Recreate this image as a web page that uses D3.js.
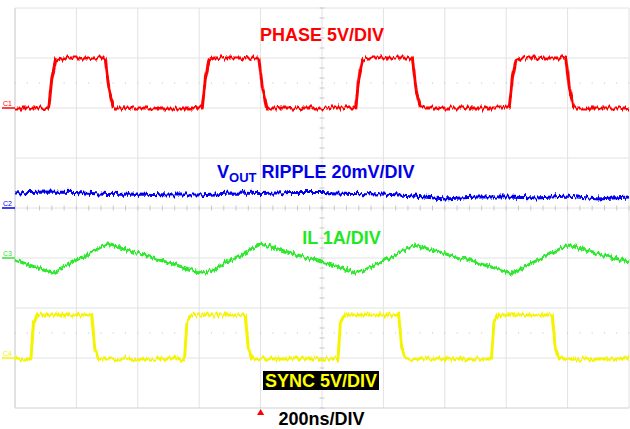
<!DOCTYPE html>
<html>
<head>
<meta charset="utf-8">
<script src="https://cdn.jsdelivr.net/npm/d3@7"></script>
<style>
  html, body { margin: 0; padding: 0; background: #fff; }
  svg { display: block; }
</style>
</head>
<body>
<svg id="scope" width="630" height="429"></svg>
<script>
// Screen is 10 horizontal divisions (200 ns each) by 8 vertical divisions.
// Times are in divisions from the left edge, levels in divisions from the centre line.

// CH1 switch node (5 V/div)
const phaseT = [0, 0.55, 0.60, 0.66, 0.74, 1.47, 1.53, 1.60, 3.05, 3.10, 3.16, 3.24, 3.97, 4.03, 4.10,
                5.55, 5.60, 5.66, 5.74, 6.47, 6.53, 6.60, 8.05, 8.10, 8.16, 8.24, 8.97, 9.03, 9.10, 10];
const phaseV = [2.0, 2.0, 2.6, 2.95, 3.0, 3.0, 2.4, 2.0, 2.0, 2.6, 2.95, 3.0, 3.0, 2.4, 2.0,
                2.0, 2.6, 2.95, 3.0, 3.0, 2.4, 2.0, 2.0, 2.6, 2.95, 3.0, 3.0, 2.4, 2.0, 2.0];

// CH2 output ripple (20 mV/div)
const voutT = [0, 0.5, 1, 1.5, 2, 2.5, 3, 3.5, 4, 4.5, 5, 5.5, 6, 6.5, 7, 7.5, 8, 8.5, 9, 9.5, 10];
const voutV = [0.30, 0.32, 0.31, 0.27, 0.28, 0.26, 0.26, 0.30, 0.29, 0.31, 0.31, 0.29, 0.28, 0.24,
               0.18, 0.22, 0.22, 0.20, 0.24, 0.18, 0.22];

// CH3 inductor current (1 A/div)
const ilT = [0, 0.60, 1.50, 3.10, 4.00, 5.60, 6.50, 8.10, 9.00, 10];
const ilV = [-1.04, -1.30, -0.72, -1.32, -0.72, -1.30, -0.74, -1.30, -0.74, -1.08];

// CH4 sync clock (5 V/div)
const syncT = [0, 0.26, 0.30, 0.36, 1.25, 1.30, 1.36, 2.76, 2.80, 2.86, 3.75, 3.80, 3.86,
               5.26, 5.30, 5.36, 6.25, 6.30, 6.36, 7.76, 7.80, 7.86, 8.75, 8.80, 8.86, 10];
const syncV = [-3.02, -3.02, -2.3, -2.14, -2.14, -2.8, -3.02, -3.02, -2.3, -2.14, -2.14, -2.8, -3.02,
               -3.02, -2.3, -2.14, -2.14, -2.8, -3.02, -3.02, -2.3, -2.14, -2.14, -2.8, -3.02, -3.02];

// Channel ground markers (divisions)
const markerNames = ["C1", "C2", "C3", "C4"];
const markerLevels = [2.0, 0.0, -1.0, -3.0];
const traceColors = ["#ff0000", "#0000ee", "#2ee82e", "#f4f400"];

const triggerTime = 4.0;

const svg = d3.select("#scope");
const x = d3.scaleLinear().domain([0, 10]).range([15, 629]);
const y = d3.scaleLinear().domain([-4, 4]).range([408, 8]);

// Noise filter: vertical displacement only, then a slight phosphor softening
const defs = svg.append("defs");
const f = defs.append("filter").attr("id", "noise")
  .attr("filterUnits", "userSpaceOnUse")
  .attr("x", 0).attr("y", 0).attr("width", 630).attr("height", 429);
f.append("feTurbulence").attr("type", "fractalNoise")
  .attr("baseFrequency", "0.45 0.06").attr("numOctaves", 2).attr("seed", 4).attr("result", "n");
f.append("feColorMatrix").attr("in", "n").attr("type", "matrix")
  .attr("values", "0 0 0 0 0.5  0 1 0 0 0  0 0 0 0 0  0 0 0 0 1").attr("result", "m");
f.append("feDisplacementMap").attr("in", "SourceGraphic").attr("in2", "m")
  .attr("scale", 8).attr("xChannelSelector", "R").attr("yChannelSelector", "G").attr("result", "d");
f.append("feGaussianBlur").attr("in", "d").attr("stdDeviation", 0.35);

// Graticule
const grid = svg.append("g");
grid.selectAll("line.v").data(d3.range(0, 11)).join("line")
  .attr("x1", d => x(d)).attr("x2", d => x(d)).attr("y1", y(4)).attr("y2", y(-4))
  .attr("stroke", d => (d === 0 ? "#c4c4c4" : "#e2e2e2")).attr("stroke-width", 1);
grid.selectAll("line.h").data(d3.range(-4, 5)).join("line")
  .attr("x1", x(0)).attr("x2", x(10)).attr("y1", d => y(d)).attr("y2", d => y(d))
  .attr("stroke", d => (d === -4 ? "#d0d0d0" : "#e2e2e2")).attr("stroke-width", 1);

// Minor ticks on the centre axes
const minorX = d3.range(0, 50.01, 1).map(i => i / 5);
const minorY = d3.range(-20, 20.01, 1).map(i => i / 5);
grid.selectAll("line.tx").data(minorX).join("line")
  .attr("x1", d => x(d)).attr("x2", d => x(d)).attr("y1", y(0) - 2.5).attr("y2", y(0) + 2.5)
  .attr("stroke", "#c8c8c8");
grid.selectAll("line.ty").data(minorY).join("line")
  .attr("x1", x(5) - 2.5).attr("x2", x(5) + 2.5).attr("y1", d => y(d)).attr("y2", d => y(d))
  .attr("stroke", "#c8c8c8");

// Dotted rows at ±2.5 div
[2.5, -2.5].forEach(lv => {
  grid.selectAll(null).data(minorX).join("rect")
    .attr("x", d => x(d) - 0.5).attr("y", y(lv) - 0.5).attr("width", 1).attr("height", 1)
    .attr("fill", "#c0c0c0");
});

// Traces
const line = d3.line().x(d => x(d[0])).y(d => y(d[1]));
const traces = [
  [phaseT, phaseV, traceColors[0]],
  [voutT, voutV, traceColors[1]],
  [ilT, ilV, traceColors[2]],
  [syncT, syncV, traceColors[3]]
];
const tg = svg.append("g").attr("filter", "url(#noise)");
traces.forEach(([t, v, c]) => {
  tg.append("path").datum(t.map((d, i) => [d, v[i]]))
    .attr("d", line).attr("fill", "none").attr("stroke", c)
    .attr("stroke-width", 3).attr("stroke-linejoin", "round");
});

// Channel markers at the left edge
const mk = svg.append("g");
markerNames.forEach((n, i) => {
  mk.append("line").attr("x1", 2).attr("x2", x(0)).attr("y1", y(markerLevels[i])).attr("y2", y(markerLevels[i]))
    .attr("stroke", traceColors[i]).attr("stroke-width", 1.5);
  mk.append("text").attr("x", 3).attr("y", y(markerLevels[i]) - 2.5)
    .attr("font-family", "Liberation Sans, Arial, sans-serif").attr("font-size", 7)
    .attr("fill", traceColors[i]).text(n);
});

// Trigger position marker
svg.append("path")
  .attr("d", d3.symbol(d3.symbolTriangle, 22)())
  .attr("transform", `translate(${x(triggerTime)},${413})`)
  .attr("fill", "#ff0000");

// Labels
const font = "Liberation Sans, Arial, Helvetica, sans-serif";
svg.append("rect").attr("x", 263).attr("y", 371).attr("width", 116).attr("height", 19).attr("fill", "#000");
const lab = svg.append("g").attr("font-family", font).attr("font-weight", "bold").attr("font-size", 18);

lab.append("text").attr("x", 322).attr("y", 41).attr("text-anchor", "middle")
  .attr("fill", "#ff0000").text("PHASE 5V/DIV");

const vt = lab.append("text").attr("x", 217).attr("y", 178).attr("fill", "#0000ee");
vt.append("tspan").text("V");
vt.append("tspan").attr("font-size", 13).attr("dy", 4).text("OUT");
vt.append("tspan").attr("dy", -4).text(" RIPPLE 20mV/DIV");

lab.append("text").attr("x", 341.5).attr("y", 244).attr("text-anchor", "middle")
  .attr("fill", "#1ee81e").text("IL 1A/DIV");

lab.append("text").attr("x", 321).attr("y", 387).attr("text-anchor", "middle")
  .attr("fill", "#ffff00").text("SYNC 5V/DIV");

lab.append("text").attr("x", 321.5).attr("y", 425).attr("text-anchor", "middle")
  .attr("fill", "#000").text("200ns/DIV");
</script>
</body>
</html>
